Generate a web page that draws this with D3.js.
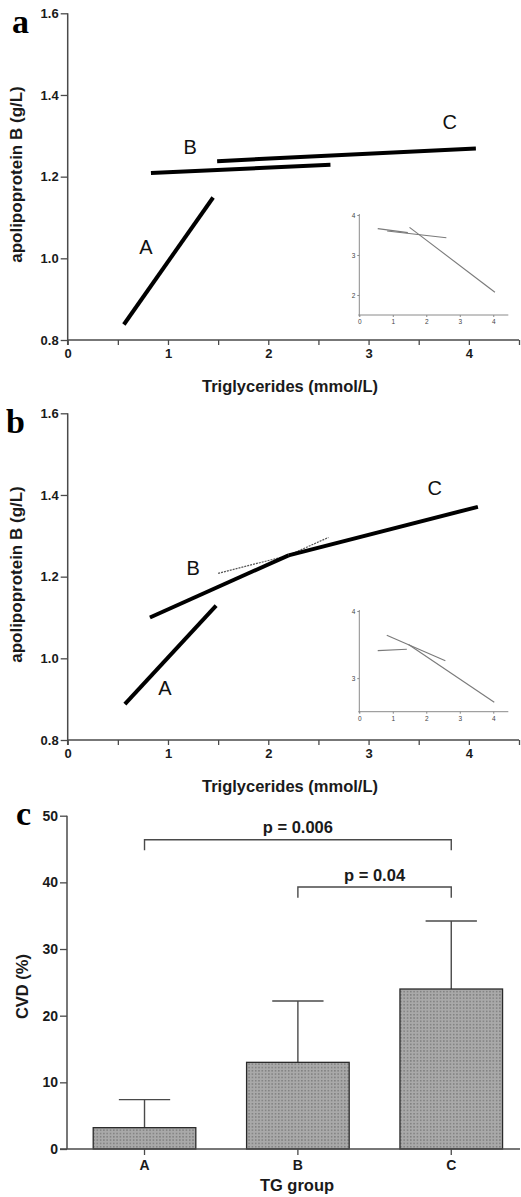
<!DOCTYPE html>
<html><head><meta charset="utf-8">
<script src="https://cdn.jsdelivr.net/npm/d3@7"></script>
<style>body{margin:0;background:#fff}svg{display:block}</style>
</head><body>
<svg id="chart" width="521" height="1197"></svg>
<script>
// ---------- data ----------
const tgTicks = [0, 1, 2, 3, 4];
const tgMinorTicks = [0, 0.5, 1, 1.5, 2, 2.5, 3, 3.5, 4, 4.5];
const apoBTicks = [0.8, 1.0, 1.2, 1.4, 1.6];

// panel a : regression lines [x, apoB]
const aLineA = [[0.56, 0.838], [1.45, 1.149]];
const aLineB = [[0.83, 1.209], [2.62, 1.229]];
const aLineC = [[1.49, 1.238], [4.07, 1.269]];
const aLabels = [["A", 0.78, 1.028], ["B", 1.22, 1.273], ["C", 3.81, 1.335]];
// inset a
const aInsetA = [[0.55, 3.66], [1.45, 3.56]];
const aInsetB = [[0.83, 3.60], [2.60, 3.43]];
const aInsetC = [[1.50, 3.69], [4.05, 2.07]];
const aInsetYTicks = [2, 3, 4];

// panel b
const bLineA = [[0.57, 0.888], [1.48, 1.129]];
const bLineB = [[0.82, 1.100], [2.60, 1.296]];
const bLineC = [[1.50, 1.208], [4.09, 1.371]];
const bLabels = [["A", 0.97, 0.927], ["B", 1.25, 1.220], ["C", 3.66, 1.416]];
// inset b
const bInsetA = [[0.55, 3.41], [1.42, 3.43]];
const bInsetB = [[0.82, 3.64], [2.57, 3.26]];
const bInsetC = [[1.47, 3.50], [4.03, 2.64]];
const bInsetYTicks = [3, 4];
const insetXTicks = [0, 1, 2, 3, 4];

// panel c
const groups = ["A", "B", "C"];
const cvd = [3.2, 13.0, 24.0];
const cvdErr = [4.2, 9.2, 10.2];
const cvdTicks = [0, 10, 20, 30, 40, 50];
const brackets = [
  { from: "A", to: "C", level: 46.4, drop: 44.8, label: "p = 0.006" },
  { from: "B", to: "C", level: 39.3, drop: 37.7, label: "p = 0.04" }
];

// ---------- drawing ----------
const svg = d3.select("#chart");
const SANS = "'Liberation Sans', Arial, Helvetica, sans-serif";
const SERIF = "'Liberation Serif', 'Times New Roman', serif";
const AX = "#4a4a4a";

const defs = svg.append("defs");
const pat = defs.append("pattern").attr("id", "dots")
  .attr("patternUnits", "userSpaceOnUse").attr("width", 3.3).attr("height", 3.3);
pat.append("rect").attr("width", 3.3).attr("height", 3.3).attr("fill", "#a9a9a9");
pat.append("rect").attr("x", 1).attr("y", 1).attr("width", 1.2).attr("height", 1.2).attr("fill", "#666");

function styleAxis(g, size, weight) {
  g.select(".domain").remove();
  g.selectAll(".tick line").attr("stroke", AX).attr("stroke-width", 1.3);
  g.selectAll(".tick text").attr("fill", "#1a1a1a").attr("font-family", SANS)
    .attr("font-size", size).attr("font-weight", weight);
}

function mainPanel(top, letter, letterX, lines, labels, crossing) {
  const x = d3.scaleLinear().domain([0, 4.5]).range([67.7, 519]);
  const y = d3.scaleLinear().domain([0.8, 1.6]).range([top + 340, top + 13.3]);
  const g = svg.append("g");

  g.append("line").attr("x1", x(0)).attr("x2", x(0)).attr("y1", y(1.6)).attr("y2", y(0.8) + 5)
    .attr("stroke", AX).attr("stroke-width", 1.5);
  g.append("line").attr("x1", x(0)).attr("x2", x(4.5)).attr("y1", y(0.8)).attr("y2", y(0.8))
    .attr("stroke", AX).attr("stroke-width", 1.5);

  const ya = g.append("g").attr("transform", `translate(${x(0)},0)`)
    .call(d3.axisLeft(y).tickValues(apoBTicks).tickFormat(d3.format(".1f")).tickSize(7).tickPadding(2));
  styleAxis(ya, 13, "bold");

  const xa = g.append("g").attr("transform", `translate(0,${y(0.8)})`)
    .call(d3.axisBottom(x).tickValues(tgMinorTicks)
      .tickFormat(d => Number.isInteger(d) ? d : "").tickSize(5).tickPadding(4));
  styleAxis(xa, 13, "bold");

  const line = d3.line().x(d => x(d[0])).y(d => y(d[1]));

  if (crossing) {
    const [L1, L2] = crossing;
    const s1 = (L1[1][1] - L1[0][1]) / (L1[1][0] - L1[0][0]);
    const s2 = (L2[1][1] - L2[0][1]) / (L2[1][0] - L2[0][0]);
    const xc = (L2[0][1] - s2 * L2[0][0] - L1[0][1] + s1 * L1[0][0]) / (s1 - s2);
    const f1 = xv => L1[0][1] + s1 * (xv - L1[0][0]);
    [L1, L2].forEach(L => g.append("path").attr("d", line(L)).attr("fill", "none")
      .attr("stroke", "#555").attr("stroke-width", 1.2).attr("stroke-dasharray", "2,1"));
    g.append("path").attr("d", line([L1[0], [xc, f1(xc)]])).attr("fill", "none")
      .attr("stroke", "#000").attr("stroke-width", 4);
    g.append("path").attr("d", line([[xc, f1(xc)], L2[1]])).attr("fill", "none")
      .attr("stroke", "#000").attr("stroke-width", 4);
  }
  lines.forEach(L => g.append("path").attr("d", line(L)).attr("fill", "none")
    .attr("stroke", "#000").attr("stroke-width", 4));

  g.selectAll(".lab").data(labels).enter().append("text")
    .attr("x", d => x(d[1])).attr("y", d => y(d[2]))
    .attr("text-anchor", "middle").attr("dominant-baseline", "central")
    .attr("font-family", SANS).attr("font-size", 20).attr("fill", "#111")
    .text(d => d[0]);

  g.append("text").attr("transform", `translate(22,${top + 174.5}) rotate(-90)`)
    .attr("text-anchor", "middle").attr("font-family", SANS).attr("font-size", 17)
    .attr("font-weight", "bold").attr("fill", "#1a1a1a").text("apolipoprotein B (g/L)");
  g.append("text").attr("x", 290).attr("y", top + 391.5).attr("text-anchor", "middle")
    .attr("font-family", SANS).attr("font-size", 16.5).attr("font-weight", "bold")
    .attr("fill", "#1a1a1a").text("Triglycerides (mmol/L)");

  g.append("text").attr("x", letterX).attr("y", top + 33).attr("font-family", SERIF)
    .attr("font-size", 34).attr("font-weight", "bold").attr("fill", "#000").text(letter);
}

function inset(yDomain, yRange, yTicks, lines, labelGap) {
  const x = d3.scaleLinear().domain([0, 4.5]).range([359.3, 510]);
  const y = d3.scaleLinear().domain(yDomain).range(yRange);
  const g = svg.append("g");
  const c = "#8a8a8a";
  g.append("line").attr("x1", x(0)).attr("x2", x(0)).attr("y1", y(yDomain[1]) - 1).attr("y2", y(yDomain[0]) + 1.5)
    .attr("stroke", c).attr("stroke-width", 1);
  g.append("line").attr("x1", x(0) - 1).attr("x2", x(4.45)).attr("y1", y(yDomain[0])).attr("y2", y(yDomain[0]))
    .attr("stroke", c).attr("stroke-width", 1);
  const ya = g.append("g").attr("transform", `translate(${x(0)},0)`)
    .call(d3.axisLeft(y).tickValues(yTicks).tickFormat(d3.format("d")).tickSize(2).tickPadding(2));
  ya.select(".domain").remove();
  ya.selectAll(".tick line").attr("stroke", c);
  ya.selectAll(".tick text").attr("font-family", SANS).attr("font-size", 6.5).attr("fill", "#444");
  const xa = g.append("g").attr("transform", `translate(0,${y(yDomain[0])})`)
    .call(d3.axisBottom(x).tickValues(insetXTicks).tickFormat(d3.format("d")).tickSize(2).tickPadding(labelGap));
  xa.select(".domain").remove();
  xa.selectAll(".tick line").attr("stroke", c);
  xa.selectAll(".tick text").attr("font-family", SANS).attr("font-size", 6.5).attr("fill", "#444");
  const line = d3.line().x(d => x(d[0])).y(d => y(d[1]));
  lines.forEach(L => g.append("path").attr("d", line(L)).attr("fill", "none")
    .attr("stroke", "#7a7a7a").attr("stroke-width", 1.1));
}

mainPanel(0, "a", 12, [aLineA, aLineB, aLineC], aLabels, null);
inset([1.5, 4], [315, 215], aInsetYTicks, [aInsetA, aInsetB, aInsetC], 2);

mainPanel(400, "b", 6, [bLineA], bLabels, [bLineB, bLineC]);
inset([2.5, 4], [711.7, 611], bInsetYTicks, [bInsetA, bInsetB, bInsetC], 3);

// ---------- panel c ----------
(function () {
  const x = d3.scaleBand().domain(groups).range([67.7, 520])
    .paddingInner(0.331).paddingOuter(0.14).align(0.594);
  const y = d3.scaleLinear().domain([0, 50]).range([1149, 815.7]);
  const g = svg.append("g");
  const data = groups.map((k, i) => ({ k, v: cvd[i], e: cvdErr[i] }));
  const bw = x.bandwidth();

  data.forEach(d => {
    const cx = x(d.k) + bw / 2;
    g.append("line").attr("x1", cx).attr("x2", cx).attr("y1", y(d.v)).attr("y2", y(d.v + d.e))
      .attr("stroke", AX).attr("stroke-width", 1.4);
    g.append("line").attr("x1", cx - bw / 4).attr("x2", cx + bw / 4)
      .attr("y1", y(d.v + d.e)).attr("y2", y(d.v + d.e)).attr("stroke", AX).attr("stroke-width", 1.4);
  });

  g.selectAll(".bar").data(data).enter().append("rect")
    .attr("x", d => x(d.k)).attr("width", bw)
    .attr("y", d => y(d.v)).attr("height", d => y(0) - y(d.v))
    .attr("fill", "url(#dots)").attr("stroke", "#2a2a2a").attr("stroke-width", 1.3);

  g.append("line").attr("x1", 67).attr("x2", 67).attr("y1", y(50)).attr("y2", y(0))
    .attr("stroke", AX).attr("stroke-width", 1.5);
  g.append("line").attr("x1", 60).attr("x2", 520).attr("y1", y(0)).attr("y2", y(0))
    .attr("stroke", AX).attr("stroke-width", 1.5);
  const ya = g.append("g").attr("transform", "translate(67,0)")
    .call(d3.axisLeft(y).tickValues(cvdTicks).tickSize(7).tickPadding(2));
  styleAxis(ya, 14, "bold");
  const xa = g.append("g").attr("transform", `translate(0,${y(0)})`)
    .call(d3.axisBottom(x).tickSize(6).tickPadding(5));
  styleAxis(xa, 14, "bold");

  brackets.forEach(b => {
    const x1 = x(b.from) + bw / 2, x2 = x(b.to) + bw / 2;
    g.append("path")
      .attr("d", `M${x1},${y(b.drop)}V${y(b.level)}H${x2}V${y(b.drop)}`)
      .attr("fill", "none").attr("stroke", AX).attr("stroke-width", 1.4);
    g.append("text").attr("x", (x1 + x2) / 2).attr("y", y(b.level) - 6.5)
      .attr("text-anchor", "middle").attr("font-family", SANS).attr("font-size", 16.5)
      .attr("font-weight", "bold").attr("fill", "#1a1a1a").text(b.label);
  });

  g.append("text").attr("transform", `translate(28,${986.5}) rotate(-90)`)
    .attr("text-anchor", "middle").attr("font-family", SANS).attr("font-size", 16.5)
    .attr("font-weight", "bold").attr("fill", "#1a1a1a").text("CVD (%)");
  g.append("text").attr("x", 297).attr("y", 1191).attr("text-anchor", "middle")
    .attr("font-family", SANS).attr("font-size", 16.5).attr("font-weight", "bold")
    .attr("fill", "#1a1a1a").text("TG group");
  g.append("text").attr("x", 16).attr("y", 825).attr("font-family", SERIF)
    .attr("font-size", 34).attr("font-weight", "bold").attr("fill", "#000").text("c");
})();
</script>
</body></html>
